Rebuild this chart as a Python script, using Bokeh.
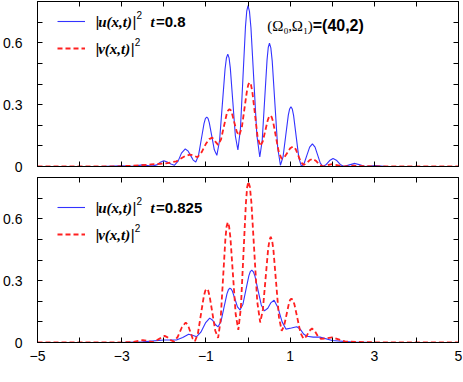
from bokeh.plotting import figure
from bokeh.models import (Range1d, LinearAxis, FixedTicker, CustomJSTickFormatter,
                          Label, Legend, LegendItem)
from bokeh.layouts import column
from bokeh.embed import file_html
from bokeh.resources import INLINE

# ---------------- data ----------------
# upper panel, t = 0.8
u_top_x = [-5.0, -3.5, -3.0, -2.75, -2.5, -2.35, -2.25, -2.15, -2.08, -2.0, -1.92, -1.83, -1.75, -1.66, -1.58,
           -1.49, -1.4275, -1.365, -1.3025, -1.24, -1.175, -1.11, -1.045, -1.0125, -0.98, -0.95, -0.92, -0.86,
           -0.80, -0.74, -0.675, -0.61, -0.545, -0.5125, -0.48, -0.45, -0.42, -0.36, -0.30, -0.24, -0.18,
           -0.12, -0.06, -0.03, 0.0, 0.035, 0.07, 0.14, 0.21, 0.28, 0.3375, 0.395, 0.4525, 0.481, 0.51,
           0.5425, 0.575, 0.64, 0.705, 0.77, 0.8325, 0.895, 0.9575, 0.989, 1.02, 1.051, 1.0825, 1.145,
           1.2075, 1.27, 1.335, 1.40, 1.465, 1.53, 1.5925, 1.655, 1.7175, 1.78, 1.86, 1.94,
           2.02, 2.11, 2.19, 2.28, 2.41, 2.54, 2.66, 2.78, 3.02, 3.3, 5.0]
u_top_y = [0, 0, 0.003, 0.001, 0.008, 0.004, 0.003, 0.009, 0.021, 0.028, 0.022, 0.012, 0.006, 0.026, 0.065,
           0.085, 0.076, 0.054, 0.031, 0.022, 0.054, 0.131, 0.208, 0.232, 0.24, 0.233, 0.213, 0.147,
           0.081, 0.054, 0.126, 0.30, 0.473, 0.526, 0.545, 0.527, 0.477, 0.313, 0.148, 0.08, 0.182,
           0.43, 0.678, 0.753, 0.78, 0.752, 0.673, 0.413, 0.153, 0.046, 0.127, 0.322, 0.517, 0.577, 0.598,
           0.575, 0.512, 0.302, 0.092, 0.006, 0.047, 0.148, 0.249, 0.279, 0.29, 0.279, 0.248, 0.145,
           0.042, 0.0, 0.016, 0.055, 0.094, 0.11, 0.094, 0.055, 0.016, 0.0, 0.01, 0.029,
           0.039, 0.029, 0.01, 0.0, 0.008, 0.015, 0.008, 0.0, 0.005, 0.0, 0]

v_top_x = [-5, -3.2, -2.6, -2.3, -1.95, -1.7, -1.5, -1.38, -1.29, -1.2, -1.1, -1.0, -0.92, -0.85, -0.78,
           -0.71, -0.6425, -0.575, -0.5075, -0.474, -0.44, -0.411, -0.3825, -0.325, -0.2675, -0.21, -0.1475,
           -0.085, -0.0225, 0.009, 0.04, 0.071, 0.1025, 0.165, 0.2275, 0.29, 0.35, 0.41, 0.47, 0.50, 0.53,
           0.564, 0.5975, 0.665, 0.7325, 0.80, 0.8675, 0.935, 1.0025, 1.07, 1.1325, 1.195, 1.2575, 1.32,
           1.39, 1.46, 1.53, 1.61, 1.70, 1.78, 2.0, 2.25, 2.5, 3.0, 5]
v_top_y = [0, 0, 0.005, 0.01, 0.015, 0.025, 0.05, 0.058, 0.053, 0.045, 0.07, 0.11, 0.133, 0.14, 0.122,
           0.105, 0.130, 0.192, 0.253, 0.271, 0.278, 0.273, 0.259, 0.214, 0.169, 0.15, 0.188,
           0.279, 0.370, 0.398, 0.408, 0.396, 0.363, 0.254, 0.144, 0.099, 0.121, 0.173, 0.225, 0.241, 0.247,
           0.239, 0.216, 0.142, 0.068, 0.037, 0.046, 0.067, 0.088, 0.097, 0.084, 0.053, 0.021, 0.008,
           0.015, 0.03, 0.037, 0.028, 0.009, 0.0, 0.012, 0.0, 0.004, 0.0, 0]

# lower panel, t = 0.825
u_bot_x = [-5, -3.0, -2.5, -2.0, -1.7, -1.55, -1.41, -1.32, -1.22, -1.12, -1.01, -0.91, -0.84, -0.77, -0.71,
           -0.64, -0.57, -0.50, -0.465, -0.43, -0.40, -0.37, -0.31, -0.25, -0.19, -0.12, -0.05, 0.02, 0.055,
           0.09, 0.1275, 0.165, 0.24, 0.315, 0.39, 0.47, 0.54, 0.62, 0.71, 0.81, 0.90, 1.03, 1.16, 1.24,
           1.32, 1.40, 1.55, 1.71, 2.0, 2.5, 3.0, 5]
u_bot_y = [0, 0, 0.003, 0.012, 0.012, 0.024, 0.04, 0.035, 0.028, 0.05, 0.095, 0.118, 0.108, 0.086, 0.076,
           0.103, 0.17, 0.236, 0.256, 0.263, 0.259, 0.248, 0.211, 0.173, 0.158, 0.186, 0.255, 0.323, 0.344,
           0.351, 0.343, 0.322, 0.252, 0.182, 0.153, 0.166, 0.192, 0.205, 0.17, 0.1, 0.065, 0.07, 0.076, 0.065,
           0.041, 0.03, 0.026, 0.026, 0.01, 0.002, 0, 0]

v_bot_x = [-5, -3.2, -2.75, -2.5, -2.25, -1.98, -1.91, -1.83, -1.76, -1.67, -1.57, -1.48, -1.425, -1.37, -1.315,
           -1.26, -1.19, -1.12, -1.05, -1.015, -0.98, -0.946, -0.9125, -0.845, -0.7775, -0.71, -0.6525, -0.595,
           -0.5375, -0.509, -0.48, -0.449, -0.4175, -0.355, -0.2925, -0.23, -0.17, -0.11, -0.05, -0.02, 0.01,
           0.045, 0.08, 0.15, 0.22, 0.29, 0.3525, 0.415, 0.4775, 0.509, 0.54, 0.5725, 0.605, 0.67, 0.735,
           0.80, 0.8575, 0.915, 0.9725, 1.001, 1.03, 1.066, 1.1025, 1.175, 1.2475, 1.32,
           1.39, 1.45, 1.52, 1.59, 1.66, 1.73, 1.86, 2.0, 2.3, 2.6, 3.2, 5]
v_bot_y = [0, 0, 0.002, 0.012, 0.002, 0.032, 0.025, 0.011, 0.004, 0.027, 0.074, 0.097, 0.084, 0.052, 0.019,
           0.006, 0.043, 0.134, 0.224, 0.251, 0.261, 0.252, 0.226, 0.142, 0.057, 0.022, 0.104, 0.303,
           0.501, 0.562, 0.583, 0.563, 0.507, 0.322, 0.137, 0.061, 0.166, 0.421, 0.675, 0.753, 0.78,
           0.754, 0.680, 0.439, 0.197, 0.097, 0.158, 0.305, 0.451, 0.496, 0.512, 0.495, 0.446, 0.285, 0.123,
           0.057, 0.080, 0.135, 0.190, 0.207, 0.213, 0.206, 0.185, 0.116, 0.046, 0.018,
           0.03, 0.055, 0.068, 0.055, 0.03, 0.018, 0.02, 0.025, 0.005, 0.003, 0, 0]

x_ticks = [-5, -3, -1, 1, 3, 5]
x_minor = [-4, -2, 0, 2, 4]
y_ticks = [0, 0.3, 0.6]
y_minor = [0.1, 0.2, 0.4, 0.5, 0.7]
time_labels = ["=0.8", "=0.825"]

BLUE = "#3333ff"
RED = "#ff2020"
SANS = "Liberation Sans"
SERIF = "Liberation Serif"

xfmt = CustomJSTickFormatter(code="return tick < 0 ? '\u2212' + Math.abs(tick) : '' + tick;")
yfmt = CustomJSTickFormatter(code="return tick == 0 ? '0' : tick.toFixed(1);")
nofmt = CustomJSTickFormatter(code="return '';")


def style_axis(ax, is_x, labels):
    if is_x:
        ax.ticker = FixedTicker(ticks=x_ticks, minor_ticks=x_minor)
    else:
        ax.ticker = FixedTicker(ticks=y_ticks, minor_ticks=y_minor)
    ax.major_tick_in = 5
    ax.major_tick_out = 0
    ax.minor_tick_in = 5
    ax.minor_tick_out = 0
    ax.major_tick_line_color = "black"
    ax.minor_tick_line_color = "black"
    ax.axis_line_color = "black"
    if labels:
        ax.formatter = xfmt if is_x else yfmt
        ax.major_label_text_font = SANS
        ax.major_label_text_font_size = "14px"
        ax.major_label_text_color = "black"
        ax.major_label_standoff = 8 if is_x else 15
    else:
        ax.formatter = nofmt
        ax.major_label_text_font_size = "1px"
        ax.major_label_standoff = 0


def add_text(p, x, y, txt, font, size, style="normal", baseline="middle", align="left"):
    p.add_layout(Label(x=x, y=y, text=txt, text_font=font, text_font_size=size,
                       text_font_style=style, text_color="black", text_baseline=baseline,
                       text_align=align))


def panel(height, top_b, bot_b, ux, uy, vx, vy, tlabel, rows_px, show_x, omega):
    p = figure(width=463, height=height, x_range=Range1d(-5, 5), y_range=Range1d(0, 0.8),
               output_backend="svg", toolbar_location=None,
               min_border_left=37, min_border_right=5, min_border_top=top_b, min_border_bottom=bot_b,
               background_fill_color="white", border_fill_color="white")
    p.grid.visible = False
    p.outline_line_color = "black"
    p.outline_line_width = 1
    style_axis(p.xaxis[0], True, show_x)
    style_axis(p.yaxis[0], False, True)
    ax_top = LinearAxis()
    style_axis(ax_top, True, False)
    p.add_layout(ax_top, "above")
    ax_right = LinearAxis()
    style_axis(ax_right, False, False)
    p.add_layout(ax_right, "right")

    ru = p.line(ux, uy, line_color=BLUE, line_width=1.1)
    rv = p.line(vx, vy, line_color=RED, line_width=1.8, line_dash="5 3")

    fh = height - top_b - bot_b
    k = 0.8 / fh
    r1, r2 = rows_px
    legend = Legend(items=[LegendItem(label=" ", renderers=[ru]), LegendItem(label=" ", renderers=[rv])],
                    location=(20, int(round(fh - r1 + 10 - 47))), glyph_width=28, glyph_height=20,
                    label_height=20, label_width=0, label_standoff=0, spacing=int(round(r2 - r1 - 20)),
                    padding=0, margin=0, border_line_color=None, background_fill_alpha=0,
                    label_text_font_size="8px")
    p.add_layout(legend)

    y1 = 0.8 - r1 * k
    y2 = 0.8 - r2 * k
    sup = 7 * k
    # row 1 : |u(x,t)|^2  t=...
    add_text(p, -3.622, y1, "|", SANS, "15px")
    add_text(p, -3.558, y1, "u(x,t)", SERIF, "15px", "bold italic")
    add_text(p, -2.743, y1, "|", SANS, "15px")
    add_text(p, -2.650, y1 + sup, "2", SANS, "10px")
    add_text(p, -2.316, y1, "t", SERIF, "15px", "bold italic")
    add_text(p, -2.185, y1, tlabel, SANS, "15px", "bold")
    # row 2 : |v(x,t)|^2
    add_text(p, -3.622, y2, "|", SANS, "15px")
    add_text(p, -3.558, y2, "v(x,t)", SERIF, "15px", "bold italic")
    add_text(p, -2.784, y2, "|", SANS, "15px")
    add_text(p, -2.690, y2 + sup, "2", SANS, "10px")

    if omega:
        yo = 0.8 - 24 * k
        sub = 5 * k
        add_text(p, 0.455, yo, "(", SERIF, "15px")
        add_text(p, 0.574, yo, "\u03a9", SERIF, "15px")
        add_text(p, 0.848, yo - sub, "0", SERIF, "9px")
        add_text(p, 0.955, yo, ",", SERIF, "15px")
        add_text(p, 1.038, yo, "\u03a9", SERIF, "15px")
        add_text(p, 1.311, yo - sub, "1", SERIF, "9px")
        add_text(p, 1.418, yo, ")", SERIF, "15px")
        add_text(p, 1.537, yo, "=(40,2)", SANS, "16px", "bold")
    if show_x:
        add_text(p, 0.0, -25.0 * k, "x", SERIF, "18px", "bold italic", baseline="alphabetic",
                 align="center")
    return p


p_top = panel(174, 1, 8, u_top_x, u_top_y, v_top_x, v_top_y, time_labels[0], (20, 47), False, True)
p_bot = panel(207, 3, 39, u_bot_x, u_bot_y, v_bot_x, v_bot_y, time_labels[1], (30, 57), True, False)

p = column(p_top, p_bot, spacing=0)
open("out.html", "w").write(file_html(p, INLINE))
